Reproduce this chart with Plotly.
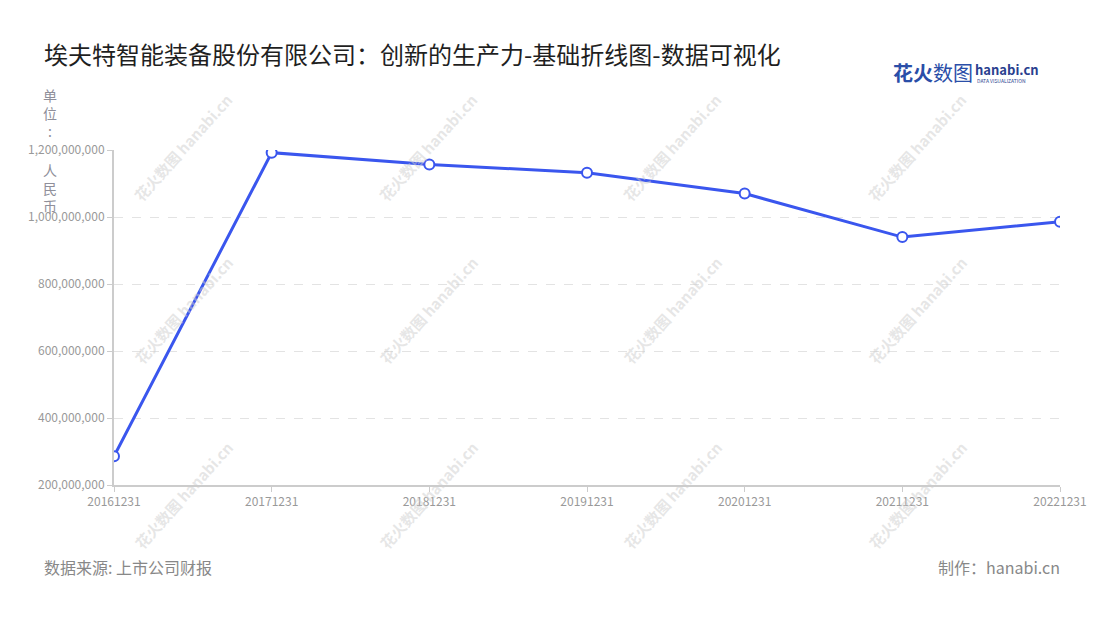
import plotly.graph_objects as go

categories = ["20161231", "20171231", "20181231", "20191231", "20201231", "20211231", "20221231"]
values = [286000000, 1192000000, 1157000000, 1132000000, 1070000000, 940000000, 986000000]
y_ticks = [200000000, 400000000, 600000000, 800000000, 1000000000, 1200000000]
y_tick_labels = ["200,000,000", "400,000,000", "600,000,000", "800,000,000", "1,000,000,000", "1,200,000,000"]

FONT = "Noto Sans CJK SC"
BLUE = "#3a56ee"

# page offset (body margin) compensation
OFF = 8
W, H = 1100 - OFF, 620 - OFF
PL, PR, PT, PB = 114 - OFF, 1060 - OFF, 150 - OFF, 485 - OFF


def px(x):
    return (x - OFF - PL) / (PR - PL)


def py(y):
    return (PB - (y - OFF)) / (PB - PT)


fig = go.Figure()
fig.add_trace(go.Scatter(
    x=categories, y=values, mode="lines+markers",
    line=dict(color=BLUE, width=3),
    marker=dict(size=10, color="white", line=dict(color=BLUE, width=2)),
    hoverinfo="x+y",
))

fig.update_layout(
    width=W, height=H,
    margin=dict(l=PL, r=W - PR, t=PT, b=H - PB),
    paper_bgcolor="white", plot_bgcolor="white",
    font=dict(family=FONT, color="#999999", size=12),
    showlegend=False,
    xaxis=dict(
        type="category", range=[0, 6],
        showline=True, linecolor="#cccccc", linewidth=2,
        ticks="outside", ticklen=5, tickcolor="#cccccc",
        showgrid=False, zeroline=False,
        tickfont=dict(size=12, color="#999999"),
    ),
    yaxis=dict(
        range=[200000000, 1200000000],
        tickvals=y_ticks, ticktext=y_tick_labels,
        showline=True, linecolor="#cccccc", linewidth=2,
        ticks="outside", ticklen=5, tickcolor="#cccccc",
        showgrid=True, gridcolor="#e3e3e3", griddash="dash", gridwidth=1,
        zeroline=False,
        tickfont=dict(size=12, color="#999999"),
    ),
)

# watermarks
wm_x = [183, 428, 672, 917]
wm_y = [148, 310, 495]
for wx in wm_x:
    for wy in wm_y:
        fig.add_annotation(
            xref="paper", yref="paper", x=px(wx), y=py(wy),
            xanchor="center", yanchor="middle",
            text="<b>花火数图</b> <b>hanabi.cn</b>", showarrow=False, textangle=-48,
            font=dict(family=FONT, size=15, color="rgba(205,205,205,0.5)"),
        )

annotations = [
    dict(text="埃夫特智能装备股份有限公司：创新的生产力-基础折线图-数据可视化",
         x=px(42), y=py(53), xanchor="left", yanchor="middle",
         font=dict(size=24, color="#1f1f1f")),
    dict(text="单<br>位<br>:",
         x=px(50), y=py(83), xanchor="center", yanchor="top",
         font=dict(size=14, color="#8f8f9a")),
    dict(text="人<br>民<br>币",
         x=px(50), y=py(158), xanchor="center", yanchor="top",
         font=dict(size=14, color="#8f8f9a")),
    dict(text="数据来源: 上市公司财报",
         x=px(42), y=py(567), xanchor="left", yanchor="middle",
         font=dict(size=16, color="#888888")),
    dict(text="制作：hanabi.cn",
         x=px(1062), y=py(567), xanchor="right", yanchor="middle",
         font=dict(size=16, color="#888888")),
    dict(text="<b>花火</b>数图",
         x=px(891), y=py(72), xanchor="left", yanchor="middle",
         font=dict(size=20, color="#2a4ea8")),
    dict(text="<b>hanabi.cn</b>",
         x=px(973), y=py(69), xanchor="left", yanchor="middle",
         font=dict(size=13, color="#2a3f8f")),
    dict(text="DATA VISUALIZATION",
         x=px(975), y=py(80), xanchor="left", yanchor="middle",
         font=dict(size=5, color="#2a3f8f")),
]
for a in annotations:
    fig.add_annotation(xref="paper", yref="paper", showarrow=False, align="center", **a)

fig.write_html("out.html")
